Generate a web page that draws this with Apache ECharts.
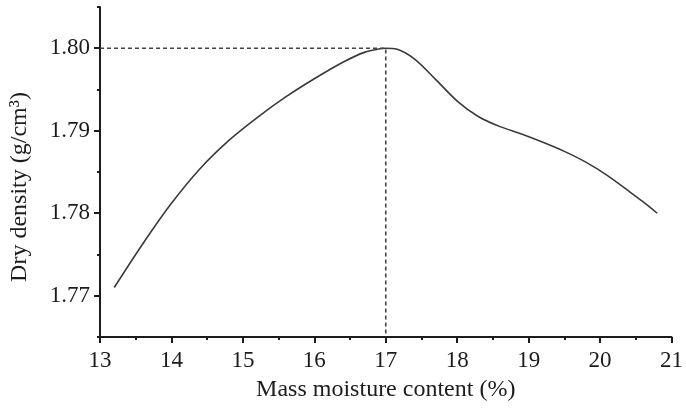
<!DOCTYPE html>
<html>
<head>
<meta charset="utf-8">
<script src="https://cdn.jsdelivr.net/npm/echarts@6/dist/echarts.min.js"></script>
<style>html,body{margin:0;padding:0;background:#fff}#c{width:686px;height:408px}</style>
</head>
<body>
<div id="c"></div>
<script>
// Curve readings (moisture %, dry density g/cm3)
const moisture = [13.2, 13.6, 14.0, 14.4, 14.8, 15.2, 15.6, 16.0, 16.4, 16.7, 16.9, 17.0, 17.15, 17.4, 17.7, 18.0, 18.3, 18.6, 18.9, 19.2, 19.5, 19.8, 20.1, 20.4, 20.6, 20.8];
const density  = [1.7710, 1.7763, 1.7812, 1.7854, 1.7888, 1.7916, 1.7941, 1.7963, 1.7983, 1.7995, 1.7999, 1.8000, 1.7999, 1.7987, 1.7962, 1.7936, 1.7917, 1.7905, 1.7896, 1.7886, 1.7875, 1.7862, 1.7846, 1.7827, 1.7814, 1.7800];
// Dashed guide to the optimum point
const guideX = [13, 17, 17];
const guideY = [1.80, 1.80, 1.765];
const xTicks = [13, 14, 15, 16, 17, 18, 19, 20, 21];
const yMajor = [1.77, 1.78, 1.79, 1.80];
const yMinor = [1.765, 1.775, 1.785, 1.795, 1.805];

const font = '"Liberation Serif", "Times New Roman", serif';
const ink = '#1c1c1c';
const chart = echarts.init(document.getElementById('c'), null, {renderer: 'canvas'});
const axisLineStyle = {color: ink, width: 2};
chart.setOption({
  animation: false,
  backgroundColor: '#fff',
  grid: {left: 100, right: 9, top: 7, bottom: 71},
  xAxis: {
    type: 'value', min: xTicks[0], max: xTicks[xTicks.length - 1], interval: 1,
    name: 'Mass moisture content (%)', nameLocation: 'middle', nameGap: 41,
    nameTextStyle: {fontFamily: font, fontSize: 24, color: ink},
    axisLine: {lineStyle: axisLineStyle},
    axisTick: {length: 6, lineStyle: {color: ink, width: 2}},
    minorTick: {show: true, splitNumber: 2, length: 3, lineStyle: {color: ink, width: 2}},
    splitLine: {show: false},
    axisLabel: {fontFamily: font, fontSize: 23, color: ink, margin: 12}
  },
  yAxis: [{
    type: 'value', min: 1.765, max: 1.805,
    name: 'Dry density (g/cm³)', nameLocation: 'middle', nameGap: 68, nameRotate: 90,
    nameTextStyle: {fontFamily: font, fontSize: 24, color: ink, padding: [0, 30, 0, 0]},
    axisLine: {lineStyle: axisLineStyle},
    axisTick: {length: 6, lineStyle: {color: ink, width: 2}, customValues: yMajor},
    splitLine: {show: false},
    axisLabel: {fontFamily: font, fontSize: 23, color: ink, margin: 10, customValues: yMajor,
      formatter: v => v.toFixed(2)}
  }, {
    type: 'value', min: 1.765, max: 1.805, position: 'left',
    axisLine: {show: false},
    axisTick: {length: 3, lineStyle: {color: ink, width: 2}, customValues: yMinor},
    axisLabel: {show: false},
    splitLine: {show: false}
  }],
  series: [{
    type: 'line', smooth: 0.3, showSymbol: false, symbol: 'none',
    data: moisture.map((x, i) => [x, density[i]]),
    lineStyle: {color: '#3a3a3a', width: 1.6}
  }, {
    type: 'line', showSymbol: false, symbol: 'none',
    data: guideX.map((x, i) => [x, guideY[i]]),
    lineStyle: {color: '#444', width: 1.6, type: [4, 3]}
  }]
});
</script>
</body>
</html>
